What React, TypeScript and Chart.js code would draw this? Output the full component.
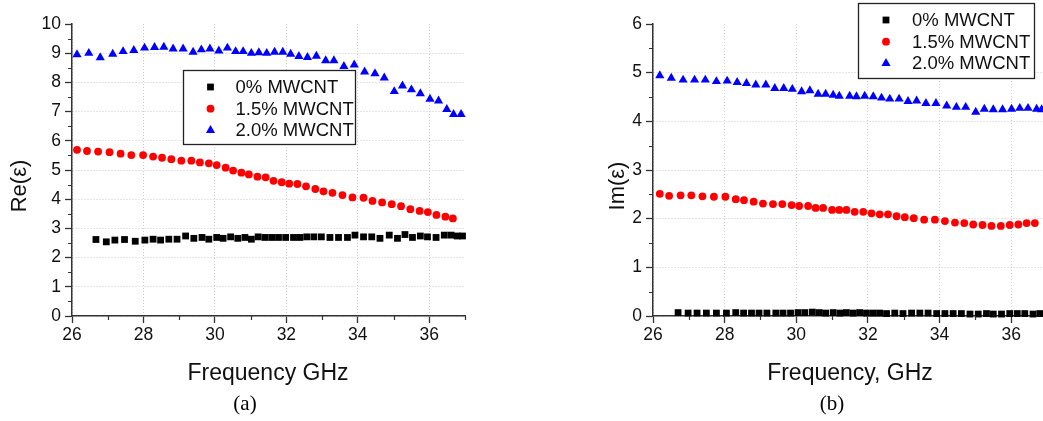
import React, { useEffect, useRef } from 'react';
import { Chart, registerables } from 'chart.js';

Chart.register(...registerables);

// ---------- Data: (a) real part ----------
const reFreq0 = [26.67, 26.96, 27.2, 27.47, 27.77, 28.04, 28.27, 28.48, 28.71, 28.94, 29.18, 29.41, 29.64, 29.83, 30.05, 30.23, 30.44, 30.64, 30.84, 31.02, 31.21, 31.4, 31.59, 31.78, 31.98, 32.2, 32.38, 32.57, 32.77, 32.98, 33.22, 33.46, 33.71, 33.92, 34.16, 34.39, 34.62, 34.88, 35.11, 35.32, 35.53, 35.75, 35.95, 36.19, 36.42, 36.61, 36.78, 36.93];
const re0 = [2.62, 2.54, 2.6, 2.62, 2.56, 2.6, 2.63, 2.6, 2.63, 2.63, 2.74, 2.66, 2.69, 2.63, 2.69, 2.66, 2.71, 2.66, 2.69, 2.63, 2.71, 2.69, 2.69, 2.69, 2.69, 2.69, 2.69, 2.71, 2.71, 2.71, 2.69, 2.69, 2.69, 2.77, 2.71, 2.71, 2.66, 2.77, 2.66, 2.79, 2.69, 2.74, 2.71, 2.69, 2.77, 2.77, 2.74, 2.74];

const reFreq15 = [26.14, 26.42, 26.73, 27.05, 27.36, 27.66, 27.99, 28.27, 28.52, 28.78, 29.06, 29.34, 29.58, 29.83, 30.05, 30.3, 30.51, 30.74, 30.95, 31.19, 31.42, 31.64, 31.87, 32.08, 32.31, 32.55, 32.81, 33.04, 33.29, 33.57, 33.85, 34.16, 34.41, 34.68, 34.95, 35.21, 35.47, 35.73, 35.96, 36.2, 36.45, 36.66];
const re15 = [5.69, 5.65, 5.63, 5.61, 5.56, 5.51, 5.51, 5.46, 5.42, 5.37, 5.32, 5.32, 5.26, 5.23, 5.17, 5.08, 4.98, 4.91, 4.85, 4.77, 4.75, 4.63, 4.58, 4.53, 4.52, 4.44, 4.35, 4.27, 4.22, 4.14, 4.06, 4.05, 3.94, 3.89, 3.83, 3.76, 3.66, 3.6, 3.56, 3.46, 3.4, 3.34];

const reFreq20 = [26.14, 26.47, 26.79, 27.14, 27.43, 27.73, 28.03, 28.31, 28.57, 28.83, 29.11, 29.39, 29.62, 29.86, 30.11, 30.35, 30.58, 30.79, 31.02, 31.23, 31.45, 31.67, 31.9, 32.12, 32.35, 32.59, 32.84, 33.1, 33.33, 33.61, 33.9, 34.19, 34.48, 34.74, 35.02, 35.25, 35.5, 35.75, 36.02, 36.26, 36.49, 36.68, 36.89];
const re20 = [8.95, 9.0, 8.85, 8.97, 9.06, 9.1, 9.18, 9.2, 9.21, 9.15, 9.15, 9.04, 9.12, 9.15, 9.08, 9.18, 9.06, 9.06, 9.0, 9.02, 9.0, 9.04, 9.04, 8.97, 8.89, 8.86, 8.9, 8.75, 8.75, 8.55, 8.6, 8.36, 8.3, 8.16, 7.69, 7.88, 7.75, 7.62, 7.43, 7.37, 7.08, 6.91, 6.91];

// ---------- Data: (b) imaginary part ----------
const imFreq0 = [26.7, 26.98, 27.23, 27.49, 27.77, 28.05, 28.31, 28.53, 28.75, 28.96, 29.18, 29.43, 29.63, 29.84, 30.05, 30.24, 30.45, 30.64, 30.82, 31.03, 31.22, 31.4, 31.59, 31.77, 31.96, 32.15, 32.33, 32.52, 32.75, 32.98, 33.22, 33.45, 33.68, 33.92, 34.15, 34.38, 34.61, 34.85, 35.08, 35.31, 35.5, 35.73, 35.96, 36.17, 36.38, 36.61, 36.8];
const im0 = [0.07, 0.06, 0.06, 0.06, 0.06, 0.06, 0.07, 0.06, 0.06, 0.06, 0.06, 0.06, 0.06, 0.06, 0.07, 0.07, 0.08, 0.07, 0.06, 0.07, 0.06, 0.07, 0.06, 0.07, 0.06, 0.06, 0.06, 0.05, 0.06, 0.05, 0.06, 0.06, 0.06, 0.05, 0.05, 0.05, 0.05, 0.04, 0.04, 0.05, 0.04, 0.04, 0.05, 0.05, 0.05, 0.04, 0.05];

const imFreq15 = [26.19, 26.45, 26.77, 27.07, 27.38, 27.7, 28.02, 28.31, 28.54, 28.81, 29.07, 29.35, 29.61, 29.87, 30.08, 30.33, 30.54, 30.75, 31.0, 31.2, 31.4, 31.63, 31.87, 32.1, 32.33, 32.56, 32.8, 33.03, 33.28, 33.57, 33.87, 34.15, 34.43, 34.69, 34.94, 35.2, 35.45, 35.71, 35.96, 36.2, 36.43, 36.66];
const im15 = [2.51, 2.47, 2.48, 2.48, 2.46, 2.45, 2.45, 2.4, 2.38, 2.35, 2.31, 2.3, 2.3, 2.28, 2.26, 2.26, 2.22, 2.22, 2.18, 2.18, 2.18, 2.14, 2.14, 2.11, 2.09, 2.09, 2.05, 2.03, 2.01, 1.98, 1.98, 1.95, 1.92, 1.91, 1.88, 1.87, 1.85, 1.85, 1.87, 1.88, 1.91, 1.91];

const imFreq20 = [26.19, 26.51, 26.84, 27.16, 27.46, 27.77, 28.07, 28.35, 28.61, 28.87, 29.15, 29.4, 29.65, 29.89, 30.15, 30.38, 30.61, 30.82, 31.03, 31.2, 31.49, 31.68, 31.91, 32.15, 32.38, 32.61, 32.87, 33.12, 33.36, 33.62, 33.9, 34.2, 34.47, 34.73, 35.01, 35.25, 35.5, 35.76, 36.01, 36.24, 36.47, 36.71, 36.85];
const im20 = [4.94, 4.89, 4.85, 4.85, 4.85, 4.82, 4.83, 4.8, 4.78, 4.75, 4.75, 4.68, 4.68, 4.66, 4.61, 4.63, 4.56, 4.56, 4.54, 4.52, 4.52, 4.51, 4.52, 4.51, 4.48, 4.46, 4.46, 4.41, 4.42, 4.37, 4.37, 4.32, 4.29, 4.29, 4.19, 4.25, 4.24, 4.24, 4.25, 4.27, 4.27, 4.25, 4.24];

const seriesLabels = ['0% MWCNT', '1.5% MWCNT', '2.0% MWCNT'];
const xMajorTicks = [26, 28, 30, 32, 34, 36];

const FONT = '"Liberation Sans", Arial, sans-serif';
const SERIF = '"Liberation Serif", "Times New Roman", serif';

type PanelCfg = {
  width: number;
  height: number;
  area: { left: number; right: number; top: number; bottom: number };
  yMax: number;
  xs: number[][];
  ys: number[][];
  yTitle: string;
  yTitleX: number;
  xTitle: string;
  xTitleX: number;
  caption: string;
  captionX: number;
  legend: { x: number; y: number; w: number; h: number; markerDx: number; textDx: number; firstDy: number; rowH: number };
};

const styles = [
  { style: 'rect', color: '#000000', radius: 4.8 },
  { style: 'circle', color: '#ff0000', radius: 3.9 },
  { style: 'triangle', color: '#0000ff', radius: 5.3 },
];

function drawMarker(ctx: CanvasRenderingContext2D, kind: string, x: number, y: number, r: number, color: string) {
  ctx.fillStyle = color;
  ctx.beginPath();
  if (kind === 'rect') {
    const s = r * Math.SQRT1_2;
    ctx.rect(x - s, y - s, 2 * s, 2 * s);
  } else if (kind === 'circle') {
    ctx.arc(x, y, r, 0, Math.PI * 2);
  } else {
    ctx.moveTo(x, y - r);
    ctx.lineTo(x + 0.866 * r, y + 0.5 * r);
    ctx.lineTo(x - 0.866 * r, y + 0.5 * r);
    ctx.closePath();
  }
  ctx.fill();
}

function makeDecoPlugin(cfg: PanelCfg) {
  return {
    id: 'deco',
    afterDraw(chart: any) {
      const ctx: CanvasRenderingContext2D = chart.ctx;
      const xs = chart.scales.x;
      const ys = chart.scales.y;
      const { left, bottom } = chart.chartArea;
      ctx.save();
      // minor ticks
      ctx.strokeStyle = '#333';
      ctx.lineWidth = 1.2;
      ctx.beginPath();
      for (let v = 0.5; v < cfg.yMax; v += 1) {
        const py = Math.round(ys.getPixelForValue(v)) + 0.5;
        ctx.moveTo(left - 4, py);
        ctx.lineTo(left, py);
      }
      for (let v = 27; v <= 37; v += 2) {
        const px = Math.round(xs.getPixelForValue(v)) + 0.5;
        ctx.moveTo(px, bottom);
        ctx.lineTo(px, bottom + 4);
      }
      ctx.stroke();

      // legend box
      const L = cfg.legend;
      ctx.fillStyle = '#ffffff';
      ctx.fillRect(L.x, L.y, L.w, L.h);
      ctx.strokeStyle = '#222';
      ctx.lineWidth = 1.3;
      ctx.strokeRect(L.x, L.y, L.w, L.h);
      ctx.font = `18.5px ${FONT}`;
      ctx.textBaseline = 'middle';
      ctx.textAlign = 'left';
      chart.data.datasets.forEach((ds: any, i: number) => {
        const cy = L.y + L.firstDy + i * L.rowH;
        const st = styles[i];
        drawMarker(ctx, st.style, L.x + L.markerDx, cy, st.radius, st.color);
        ctx.fillStyle = '#111';
        ctx.fillText(ds.label, L.x + L.textDx, cy + 1);
      });

      // axis titles
      ctx.fillStyle = '#111';
      ctx.font = `23px ${FONT}`;
      ctx.textAlign = 'center';
      ctx.textBaseline = 'alphabetic';
      ctx.fillText(cfg.xTitle, cfg.xTitleX, 380);
      ctx.save();
      ctx.translate(cfg.yTitleX, 186);
      ctx.rotate(-Math.PI / 2);
      ctx.font = `22px ${FONT}`;
      ctx.fillText(cfg.yTitle, 0, 0);
      ctx.restore();

      // caption
      ctx.font = `21px ${SERIF}`;
      ctx.fillStyle = '#000';
      ctx.fillText(cfg.caption, cfg.captionX, 410);
      ctx.restore();
    },
  };
}

function Panel({ cfg, left }: { cfg: PanelCfg; left: number }) {
  const ref = useRef<HTMLCanvasElement | null>(null);
  useEffect(() => {
    if (!ref.current) return;
    const A = cfg.area;
    const datasets = cfg.xs.map((xArr, i) => ({
      label: seriesLabels[i],
      data: xArr.map((x, j) => ({ x, y: cfg.ys[i][j] })),
      showLine: false,
      pointStyle: styles[i].style as any,
      pointRadius: styles[i].radius,
      pointBackgroundColor: styles[i].color,
      pointBorderColor: styles[i].color,
      pointBorderWidth: 0,
      clip: false as any,
    }));
    const gridColor = (max: number) => (c: any) =>
      c.tick && (c.tick.value === max) ? 'rgba(0,0,0,0)' : '#cccccc';
    const chart = new Chart(ref.current, {
      type: 'scatter',
      data: { datasets },
      options: {
        animation: false,
        responsive: false,
        devicePixelRatio: 1,
        events: [],
        layout: { padding: { left: 0, top: A.top, right: cfg.width - A.right, bottom: 0 } },
        plugins: { legend: { display: false }, tooltip: { enabled: false }, title: { display: false } },
        scales: {
          x: {
            type: 'linear',
            min: 26,
            max: 37,
            afterBuildTicks: (s: any) => {
              s.ticks = xMajorTicks.map((v) => ({ value: v }));
            },
            afterFit: (s: any) => {
              s.height = cfg.height - A.bottom;
            },
            ticks: { color: '#111', font: { family: FONT, size: 17.5 }, padding: 2, maxRotation: 0 },
            grid: { color: gridColor(-1), lineWidth: 1, tickLength: 7, tickColor: '#333', tickWidth: 1.3, drawTicks: true },
            border: { display: true, color: '#333', width: 1.5, dash: [1, 2] },
          },
          y: {
            type: 'linear',
            min: 0,
            max: cfg.yMax,
            ticks: { stepSize: 1, color: '#111', font: { family: FONT, size: 17.5 }, padding: 4 },
            afterFit: (s: any) => {
              s.width = A.left;
            },
            grid: { color: gridColor(cfg.yMax), lineWidth: 1, tickLength: 7, tickColor: '#333', tickWidth: 1.3, drawTicks: true },
            border: { display: true, color: '#333', width: 1.5, dash: [1, 2] },
          },
        },
      } as any,
      plugins: [makeDecoPlugin(cfg) as any],
    });
    return () => chart.destroy();
  }, [cfg]);
  return (
    <canvas
      ref={ref}
      width={cfg.width}
      height={cfg.height}
      style={{ position: 'absolute', left, top: 0, width: cfg.width, height: cfg.height }}
    />
  );
}

const cfgA: PanelCfg = {
  width: 520,
  height: 421,
  area: { left: 72, right: 465, top: 24, bottom: 316 },
  yMax: 10,
  xs: [reFreq0, reFreq15, reFreq20],
  ys: [re0, re15, re20],
  yTitle: 'Re(ε)',
  yTitleX: 26,
  xTitle: 'Frequency GHz',
  xTitleX: 268,
  caption: '(a)',
  captionX: 245,
  legend: { x: 183.5, y: 70.5, w: 172, h: 74, markerDx: 27, textDx: 52, firstDy: 16.5, rowH: 21.7 },
};

const cfgB: PanelCfg = {
  width: 560,
  height: 421,
  area: { left: 133, right: 527, top: 24, bottom: 316 },
  yMax: 6,
  xs: [imFreq0, imFreq15, imFreq20],
  ys: [im0, im15, im20],
  yTitle: 'Im(ε)',
  yTitleX: 104,
  xTitle: 'Frequency, GHz',
  xTitleX: 330,
  caption: '(b)',
  captionX: 312,
  legend: { x: 338.5, y: 3.5, w: 176, h: 75, markerDx: 27.5, textDx: 53.5, firstDy: 16.5, rowH: 21.7 },
};

export default function App() {
  return (
    <div
      style={{
        position: 'fixed',
        left: 0,
        top: 0,
        width: 1043,
        height: 421,
        overflow: 'hidden',
        background: '#ffffff',
      }}
    >
      <Panel cfg={cfgA} left={0} />
      <Panel cfg={cfgB} left={520} />
    </div>
  );
}
